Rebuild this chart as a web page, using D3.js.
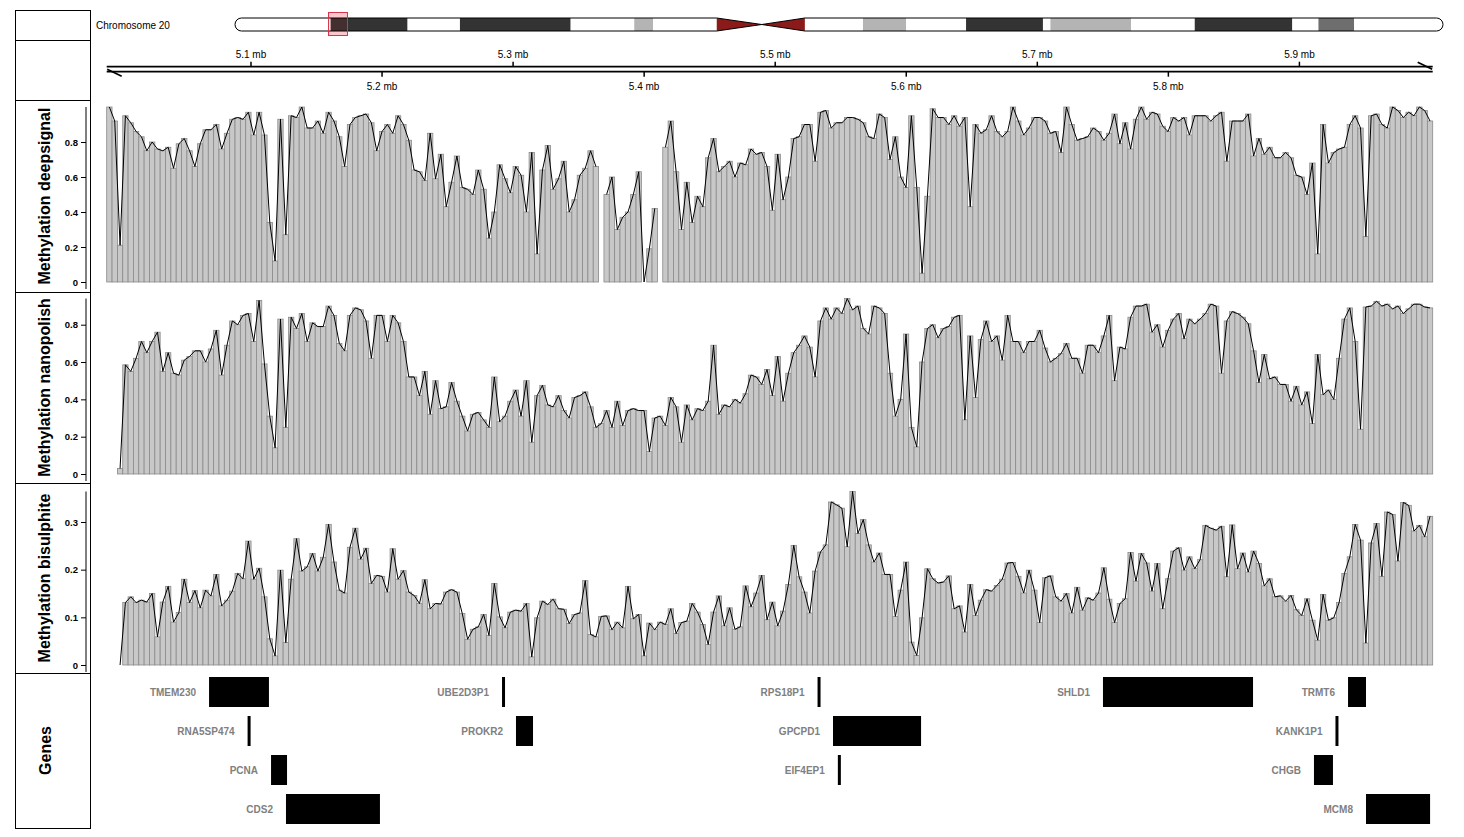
<!DOCTYPE html>
<html><head><meta charset="utf-8">
<script src="https://cdn.jsdelivr.net/npm/d3@7"></script>
<style>
body{margin:0;background:#fff}
svg{display:block}
text{font-family:"Liberation Sans",Arial,Helvetica,sans-serif}
</style>
</head><body>
<svg id="chart" width="1464" height="837"></svg>
<script>
// ---------------- data ----------------
const regionStart = 4989900, regionEnd = 6001700;   // bp, plotted window
const nBins = 248;

const deepsignal = [
1.00,0.92,0.21,0.95,0.91,0.86,0.83,0.75,0.80,0.76,
0.75,0.77,0.65,0.79,0.82,0.75,0.66,0.79,0.87,0.87,
0.90,0.76,0.85,0.93,0.94,0.93,0.97,0.84,0.97,0.84,
0.34,0.12,0.93,0.27,0.95,0.94,1.00,0.88,0.88,0.92,
0.85,0.97,0.92,0.83,0.66,0.90,0.94,0.95,0.96,0.91,
0.75,0.86,0.90,0.85,0.95,0.90,0.81,0.64,0.63,0.58,
0.85,0.59,0.73,
0.43,0.57,0.72,0.54,0.53,0.50,0.64,0.53,0.25,0.40,
0.67,0.59,0.51,0.66,0.61,0.40,0.74,0.16,0.64,0.78,
0.53,0.59,0.69,0.40,0.47,0.61,0.65,0.75,0.66,
null,
0.50,0.60,0.30,0.37,0.40,0.50,0.63,0.00,0.19,0.42,
null,
0.77,0.92,0.63,0.30,0.57,0.34,0.49,0.43,0.71,0.82,
0.63,0.66,0.69,0.60,0.68,0.67,0.76,0.73,0.74,0.66,
0.41,0.73,0.47,0.60,0.82,0.83,0.90,0.90,0.69,0.97,
0.98,0.88,0.91,0.91,0.94,0.94,0.93,0.91,0.83,0.82,
0.96,0.94,0.70,0.83,0.60,0.54,0.95,0.54,0.05,0.49,
0.99,
0.94,0.94,0.90,0.95,0.89,0.94,0.43,0.90,0.85,0.87,
0.95,0.86,0.83,0.86,1.00,0.92,0.84,0.88,0.94,0.94,
0.92,0.85,0.86,0.74,1.00,0.90,0.81,0.82,0.83,0.88,
0.86,0.81,0.85,0.96,0.79,0.91,0.76,0.93,1.00,0.93,
0.97,0.96,0.89,0.86,0.94,0.92,0.94,0.84,0.95,0.95,
0.95,0.92,0.95,0.97,0.69,0.92,0.92,0.92,0.96,
0.72,0.82,0.73,0.77,0.71,0.71,0.74,0.71,0.61,
0.60,0.50,0.68,0.16,0.90,0.68,0.74,0.76,0.77,0.90,
0.95,0.88,0.26,0.95,0.96,0.90,0.88,1.00,0.98,0.94,
0.97,0.95,1.00,0.98,0.92
];

const nanopolish = [
null,null,0.03,
0.585,0.55,0.62,0.71,0.65,0.71,0.76,0.55,0.65,0.54,
0.53,0.61,0.63,0.66,0.66,0.60,0.67,0.77,0.53,0.69,
0.82,0.80,0.85,0.86,0.71,0.93,0.59,0.31,0.14,0.83,
0.25,0.84,0.78,0.86,0.71,0.81,0.79,0.79,0.90,0.85,
0.70,0.66,0.85,0.89,0.88,0.82,0.62,0.85,0.85,0.71,
0.85,0.81,0.71,0.52,0.52,0.42,0.55,0.32,0.50,0.35,
0.36,0.49,0.39,0.31,0.23,0.32,0.33,0.29,0.25,
0.52,0.28,0.31,0.39,0.45,0.31,0.50,
0.17,0.42,0.475,0.37,0.36,0.42,0.34,0.30,0.41,0.42,
0.44,0.36,0.25,0.27,0.34,0.25,0.39,0.26,0.34,0.35,
0.34,0.34,0.12,0.30,0.31,0.26,0.41,0.36,0.17,0.37,
0.29,0.35,0.34,0.39,0.69,0.32,0.37,0.36,0.40,0.38,
0.43,0.53,0.52,0.48,0.56,0.42,0.63,0.39,0.54,0.65,
0.69,0.74,0.68,0.52,0.82,0.89,0.83,0.89,0.86,0.94,
0.88,0.90,0.78,0.75,0.90,0.89,0.86,0.54,0.31,0.40,
0.75,0.25,0.145,0.60,0.78,0.80,0.73,0.78,0.79,0.84,
0.85,0.29,
0.74,0.41,0.72,
0.82,0.71,0.74,0.61,0.85,0.71,0.71,0.65,0.71,0.71,
0.77,0.675,0.60,0.62,0.645,0.70,0.62,0.62,0.54,0.69,
0.69,0.65,0.74,0.85,0.50,0.68,0.67,0.84,0.90,0.90,
0.91,0.76,0.80,0.68,0.77,0.83,0.86,0.725,0.83,
0.805,0.83,0.86,0.91,0.90,0.54,0.82,0.87,0.86,0.84,
0.805,0.66,0.49,0.64,0.51,0.52,0.48,0.48,0.39,0.47,
0.37,0.44,0.27,0.64,0.425,0.45,0.40,0.62,0.83,0.89,
0.71,0.24,0.895,0.90,0.925,0.90,0.91,0.885,0.90,0.86,
0.885,0.91,0.91,0.895,0.89
];

const bisulphite = [
null,null,0.0,
0.131,0.143,0.131,0.136,0.132,0.150,0.059,0.132,0.165,0.090,
0.110,0.180,0.131,0.156,0.120,0.157,0.145,0.190,0.124,0.136,
0.155,0.192,0.181,0.260,0.180,0.203,0.143,0.055,0.019,0.199,
0.047,0.180,0.265,0.197,0.206,0.234,0.197,0.226,0.295,0.216,
0.157,0.151,0.247,0.287,0.222,0.245,0.171,0.188,0.186,0.153,
0.244,0.180,0.198,0.153,0.146,0.129,0.179,0.118,0.129,0.128,
0.153,0.158,0.153,0.108,0.054,0.075,0.080,0.106,0.062,0.171,
0.101,0.078,0.111,0.115,0.113,0.129,
0.017,0.099,0.134,0.127,0.138,0.118,0.117,0.087,0.106,
0.109,0.177,0.064,0.059,0.102,0.103,0.074,0.090,0.078,0.165,
0.097,0.106,0.019,0.088,0.074,0.090,0.085,0.118,0.066,0.089,
0.092,0.129,0.111,0.085,0.043,0.111,0.145,0.082,0.120,0.075,
0.080,0.166,0.122,0.151,0.188,0.095,0.132,0.082,0.113,0.169,
0.251,0.185,0.153,0.109,0.197,0.237,0.252,0.342,0.336,0.329,
0.248,0.364,0.276,0.305,0.252,0.216,0.235,0.190,0.190,0.102,
0.157,0.216,0.048,0.020,0.099,0.202,0.181,0.172,0.174,0.187,
0.118,0.124,0.069,0.169,
0.104,0.136,0.158,0.155,0.167,0.180,0.214,0.215,0.186,0.151,
0.199,0.157,0.089,0.183,0.187,0.143,0.134,0.150,0.109,0.163,
0.115,0.141,0.136,0.151,0.204,0.138,0.089,0.129,0.139,0.236,
0.176,0.234,0.214,0.155,0.213,0.118,0.181,0.239,0.246,0.199,
0.227,0.202,0.221,0.293,0.287,0.283,0.291,0.185,0.294,0.202,
0.235,0.195,0.239,0.213,0.166,0.181,0.143,0.145,0.134,
0.146,0.116,0.104,0.139,0.094,0.052,0.148,0.094,0.099,0.131,
0.192,0.227,0.295,0.262,0.046,0.256,0.297,0.186,0.321,0.316,
0.218,0.341,0.335,0.281,0.293,0.269,0.312
];

const trackNames = ["Methylation deepsignal","Methylation nanopolish","Methylation bisulphite"];
const trackTicks = [[0,0.2,0.4,0.6,0.8],[0,0.2,0.4,0.6,0.8],[0,0.1,0.2,0.3]];

const axisTicksMb = [5.1,5.2,5.3,5.4,5.5,5.6,5.7,5.8,5.9];

const geneNames = ["TMEM230","UBE2D3P1","RPS18P1","SHLD1","TRMT6",
                   "RNA5SP474","PROKR2","GPCPD1","KANK1P1",
                   "PCNA","EIF4EP1","CHGB",
                   "CDS2","MCM8"];
const geneStart = [5068000,5291700,5532700,5750100,5937100,
                   5097800,5302200,5544100,5927900,
                   5115300,5547900,5911100,
                   5126700,5950800];
const geneEnd   = [5113700,5293700,5534200,5864600,5950800,
                   5099300,5315200,5611300,5929400,
                   5127500,5550000,5925600,
                   5198400,5999700];
const geneRow   = [0,0,0,0,0, 1,1,1,1, 2,2,2, 3,3];

const chromName = "Chromosome 20";
const chromLengthMb = 64.444167;
const bandStartMb = [0,5.1,9.2,12.0,17.9,21.3,22.3,25.7,28.1,30.4,33.5,35.8,39.0,43.1,43.5,47.8,51.2,56.4,57.8,59.7];
const bandEndMb   = [5.1,9.2,12.0,17.9,21.3,22.3,25.7,28.1,30.4,33.5,35.8,39.0,43.1,43.5,47.8,51.2,56.4,57.8,59.7,64.444167];
const bandStain   = ["gneg","gpos75","gneg","gpos75","gneg","gpos25","gneg","acen","acen","gneg","gpos25","gneg","gpos75","gneg","gpos25","gneg","gpos75","gneg","gpos50","gneg"];

// ---------------- layout ----------------
const svg = d3.select("#chart");
const dataLeft = 106.7, dataRight = 1432.7;
const x = d3.scaleLinear().domain([regionStart, regionEnd]).range([dataLeft, dataRight]);
const binSize = (regionEnd - regionStart) / nBins;

const stainColor = {gneg:"#ffffff", gpos25:"#b4b4b4", gpos50:"#6e6e6e", gpos75:"#333333", gpos100:"#000000", acen:"#8b1a1a"};

// title panels
const panels = [
  {top:10, bottom:40, title:""},
  {top:40, bottom:100, title:""},
  {top:100, bottom:292, title:trackNames[0]},
  {top:292, bottom:483, title:trackNames[1]},
  {top:483, bottom:673, title:trackNames[2]},
  {top:673, bottom:828, title:"Genes"}
];
svg.selectAll("rect.panel").data(panels).join("rect")
  .attr("class","panel")
  .attr("x",15.5).attr("y",d=>d.top+0.5)
  .attr("width",75).attr("height",d=>d.bottom-d.top)
  .attr("fill","#fff").attr("stroke","#000").attr("stroke-width",1);
svg.selectAll("text.ptitle").data(panels.filter(p=>p.title)).join("text")
  .attr("class","ptitle")
  .attr("transform",d=>`translate(${d.title==="Genes"?45:44},${(d.top+d.bottom)/2}) rotate(-90)`)
  .attr("text-anchor","middle").attr("dominant-baseline","central")
  .attr("font-size",16).attr("font-weight","bold").attr("fill","#000")
  .text(d=>d.title);

// ---------------- ideogram ----------------
const ideoLeft = 235, ideoRight = 1443, ideoTop = 18, ideoBot = 31;
const ix = d3.scaleLinear().domain([0, chromLengthMb]).range([ideoLeft, ideoRight]);
const ideoMid = (ideoTop+ideoBot)/2, r = (ideoBot-ideoTop)/2;
const acenIdx = bandStain.map((s,i)=>s==="acen"?i:-1).filter(i=>i>=0);
const cs = ix(bandStartMb[acenIdx[0]]), cm = ix(bandEndMb[acenIdx[0]]), ce = ix(bandEndMb[acenIdx[acenIdx.length-1]]);
const chromPath = `M${ideoLeft+r},${ideoTop} L${cs},${ideoTop} L${cm},${ideoMid} L${ce},${ideoTop} L${ideoRight-r},${ideoTop} A${r},${r} 0 0 1 ${ideoRight-r},${ideoBot} L${ce},${ideoBot} L${cm},${ideoMid} L${cs},${ideoBot} L${ideoLeft+r},${ideoBot} A${r},${r} 0 0 1 ${ideoLeft+r},${ideoTop} Z`;

svg.append("rect")
  .attr("x", ix(regionStart/1e6)).attr("y", 12.5)
  .attr("width", ix(regionEnd/1e6)-ix(regionStart/1e6)).attr("height", 23)
  .attr("fill","#fcd9df").attr("stroke","#d8344a").attr("stroke-width",1);

svg.append("clipPath").attr("id","chromClip").append("path").attr("d", chromPath);
const bands = bandStartMb.map((s,i)=>({s, e:bandEndMb[i], stain:bandStain[i]}));
svg.append("g").attr("clip-path","url(#chromClip)")
  .selectAll("rect").data(bands).join("rect")
  .attr("x",d=>ix(d.s)).attr("width",d=>ix(d.e)-ix(d.s)+0.3)
  .attr("y",ideoTop).attr("height",ideoBot-ideoTop)
  .attr("fill",d=>stainColor[d.stain]);
svg.append("path").attr("d",chromPath).attr("fill","none").attr("stroke","#000").attr("stroke-width",1);
svg.append("rect")
  .attr("x", ix(regionStart/1e6)).attr("y", 12.5)
  .attr("width", ix(regionEnd/1e6)-ix(regionStart/1e6)).attr("height", 23)
  .attr("fill","#ff0000").attr("fill-opacity",0.08).attr("stroke","#d8344a").attr("stroke-width",1);

svg.append("text").attr("x",96).attr("y",25).attr("dominant-baseline","central")
  .attr("font-size",10).attr("fill","#000").text(chromName);

// ---------------- genome axis ----------------
const upY = 66.7, loY = 71.7;
const gAx = svg.append("g").attr("stroke","#000").attr("stroke-width",1.7).attr("fill","none");
gAx.append("line").attr("x1",dataLeft).attr("x2",dataRight).attr("y1",upY).attr("y2",upY);
gAx.append("line").attr("x1",dataLeft).attr("x2",dataRight).attr("y1",loY).attr("y2",loY);
gAx.append("line").attr("x1",dataLeft+0.5).attr("y1",loY-2.5).attr("x2",dataLeft+15).attr("y2",loY+4.5);
gAx.append("line").attr("x1",dataRight-15).attr("y1",upY-4.5).attr("x2",dataRight-0.5).attr("y2",upY+2.5);
axisTicksMb.forEach((mb,i)=>{
  const px = x(mb*1e6);
  const upper = i%2===0;
  gAx.append("line").attr("x1",px).attr("x2",px)
     .attr("y1",upper?upY:loY).attr("y2",upper?upY-5:loY+5).attr("stroke-width",1.5);
  svg.append("text").attr("x",px).attr("y",upper?54:86)
     .attr("text-anchor","middle").attr("dominant-baseline","central")
     .attr("font-size",10).attr("fill","#000").text(d3.format(".1f")(mb)+" mb");
});

// ---------------- data tracks ----------------
const trackValues = [deepsignal, nanopolish, bisulphite];
const trackY = [
  d3.scaleLinear().domain([0,1.0]).range([282,107]),
  d3.scaleLinear().domain([0,0.8]).range([474,324.7]),
  d3.scaleLinear().domain([0,0.3]).range([665,522])
];
trackValues.forEach((vals,t)=>{
  if (vals.length !== nBins) console.warn(trackNames[t], vals.length);
  const y = trackY[t];
  const data = vals.map((v,i)=>({i, v, s:regionStart+i*binSize, e:regionStart+(i+1)*binSize}));
  const g = svg.append("g");
  g.selectAll("rect").data(data.filter(d=>d.v!==null)).join("rect")
    .attr("x",d=>x(d.s)).attr("width",d=>x(d.e)-x(d.s))
    .attr("y",d=>y(d.v)).attr("height",d=>Math.max(0,y(0)-y(d.v)))
    .attr("fill","#c8c8c8").attr("stroke","#8a8a8a").attr("stroke-width",0.8);
  const line = d3.line().defined(d=>d.v!==null)
    .x(d=>(x(d.s)+x(d.e))/2).y(d=>y(d.v));
  g.append("path").attr("d",line(data)).attr("fill","none").attr("stroke","#000").attr("stroke-width",1);

  const vmax = d3.max(vals);
  const axisG = svg.append("g").attr("transform","translate(86,0)");
  axisG.call(d3.axisLeft(y).tickValues(trackTicks[t]).tickSize(5)
      .tickFormat(d=>d===0?"0":d3.format(".1f")(d)));
  axisG.select(".domain").remove();
  axisG.selectAll("text").attr("font-size",9.5).attr("font-weight","bold")
      .attr("font-family",'"Liberation Sans",Arial,sans-serif').attr("fill","#000");
  axisG.append("line").attr("x1",0).attr("x2",0)
      .attr("y1",y(-0.04*vmax)).attr("y2",y(vmax)).attr("stroke","#000");
});

// ---------------- genes ----------------
const rowTop = [677,716,755,794], boxH = 30;
const genes = geneNames.map((n,i)=>({n, s:geneStart[i], e:geneEnd[i], row:geneRow[i]}));
const gG = svg.append("g");
const gx0 = d=>{const w=x(d.e)-x(d.s); return w<3 ? (x(d.s)+x(d.e))/2-1.5 : x(d.s);};
gG.selectAll("rect").data(genes).join("rect")
  .attr("x",gx0)
  .attr("width",d=>Math.max(3,x(d.e)-x(d.s)))
  .attr("y",d=>rowTop[d.row]).attr("height",boxH)
  .attr("fill","#000");
gG.selectAll("text").data(genes).join("text")
  .attr("x",d=>gx0(d)-13)
  .attr("y",d=>rowTop[d.row]+boxH/2)
  .attr("text-anchor","end").attr("dominant-baseline","central")
  .attr("font-size",10).attr("font-weight","bold").attr("fill","#808080")
  .text(d=>d.n);
</script>
</body></html>
